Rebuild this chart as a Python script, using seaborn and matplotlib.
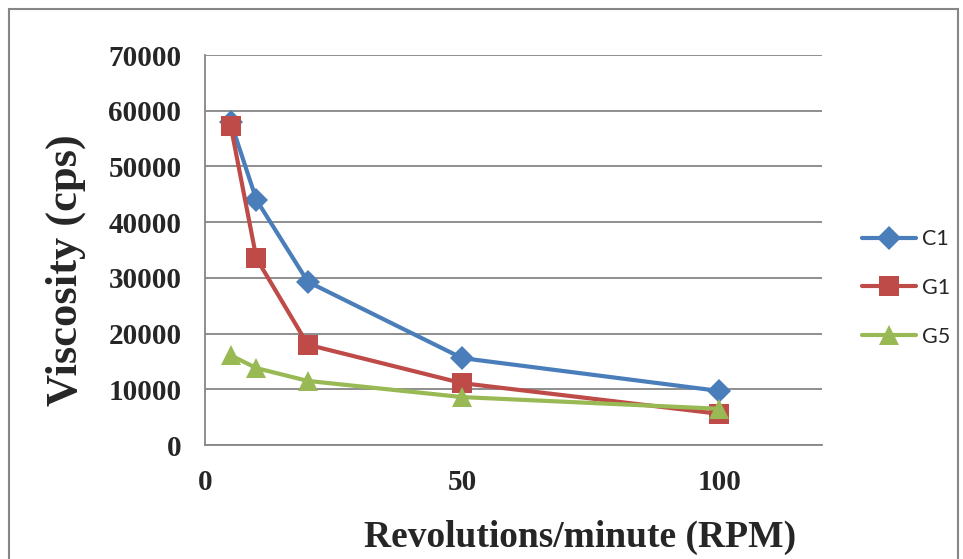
import pandas as pd
import matplotlib.pyplot as plt
import seaborn as sns
from matplotlib.patches import Rectangle

# dados
rpm = [5, 10, 20, 50, 100]
c1 = [58000, 44000, 29300, 15600, 9700]
g1 = [57300, 33500, 18000, 11100, 5600]
g5 = [16100, 13800, 11500, 8600, 6500]
series = ['C1', 'G1', 'G5']

df = pd.DataFrame({
    'RPM': rpm * 3,
    'Viscosity': c1 + g1 + g5,
    'Serie': [s for s in series for _ in rpm],
})

cores = {'C1': '#4A7EBB', 'G1': '#BE4B48', 'G5': '#98B954'}
marcadores = {'C1': 'D', 'G1': 's', 'G5': '^'}
tamanhos = {'C1': 12, 'G1': 14, 'G5': 14}

sns.set_style('white')
plt.rcParams['font.family'] = ['Liberation Serif', 'DejaVu Serif']

fig = plt.figure(figsize=(9.63, 5.59), dpi=100)
ax = fig.add_axes([205 / 963, 1 - 445 / 559, (822 - 205) / 963, (445 - 55) / 559])

for s in series:
    sns.lineplot(data=df[df['Serie'] == s], x='RPM', y='Viscosity', ax=ax,
                 color=cores[s], marker=marcadores[s], markersize=tamanhos[s],
                 markeredgewidth=0, linewidth=3, label=s)

ax.set_xlim(0, 120)
ax.set_ylim(0, 70000)
ax.set_xticks([0, 50, 100])
ax.set_yticks(range(0, 70001, 10000))
ax.yaxis.grid(True, color='#868686', linewidth=1.3)
ax.xaxis.grid(False)
ax.set_axisbelow(True)
for lado in ['top', 'right']:
    ax.spines[lado].set_visible(False)
for lado in ['left', 'bottom']:
    ax.spines[lado].set_color('#868686')
    ax.spines[lado].set_linewidth(1.3)
ax.tick_params(axis='both', length=0, labelsize=21, pad=17)
for t in ax.get_xticklabels() + ax.get_yticklabels():
    t.set_fontweight('bold')

ax.set_xlabel('')
ax.set_ylabel('')
fig.text(580 / 963, 1 - 537 / 559, 'Revolutions/minute (RPM)', fontsize=27,
         fontweight='bold', ha='center', va='center')
fig.text(66 / 963, 1 - 270 / 559, 'Viscosity (cps)', fontsize=32,
         fontweight='bold', ha='center', va='center', rotation=90)

leg = ax.legend(loc='upper left', bbox_to_anchor=(843 / 963, 1 - 210 / 559),
                bbox_transform=fig.transFigure, frameon=False,
                prop={'family': 'Lato', 'size': 15.5}, handlelength=2.5,
                labelspacing=1.33, handletextpad=0.25)

fig.patches.append(Rectangle((8.5 / 963, -0.05), (958 - 8.5) / 963, 1.05 - 8.5 / 559,
                             transform=fig.transFigure, fill=False,
                             edgecolor='#868686', linewidth=1.5))

plt.savefig('out.png', dpi=100)
